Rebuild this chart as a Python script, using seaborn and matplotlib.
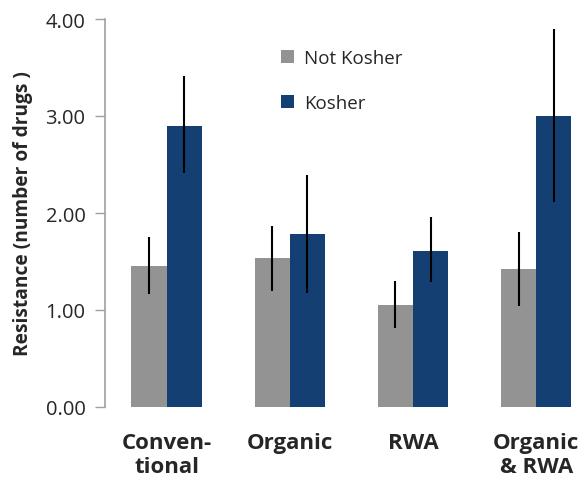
import pandas as pd
import seaborn as sns
import matplotlib.pyplot as plt

# values
groups = ['Conven-\ntional', 'Organic', 'RWA', 'Organic\n& RWA']
series = ['Not Kosher', 'Kosher']
not_kosher = [1.45, 1.54, 1.05, 1.42]
kosher = [2.90, 1.78, 1.61, 3.00]
nk_low = [1.17, 1.20, 0.81, 1.04]
nk_high = [1.75, 1.87, 1.30, 1.80]
k_low = [2.41, 1.18, 1.29, 2.11]
k_high = [3.41, 2.39, 1.96, 3.90]

colors = ['#939393', '#143f73']

df = pd.DataFrame({
    'group': groups * 2,
    'series': [series[0]] * 4 + [series[1]] * 4,
    'value': not_kosher + kosher,
})

sns.set_style('white')
plt.rcParams['font.family'] = ['Open Sans', 'DejaVu Sans']

fig = plt.figure(figsize=(5.88, 4.85), dpi=100)
ax = fig.add_axes([105 / 588, 1 - 408 / 485, 483 / 588, 388 / 485])

sns.barplot(data=df, x='group', y='value', hue='series', order=groups,
            hue_order=series, palette=colors, width=0.57, saturation=1,
            errorbar=None, linewidth=0, ax=ax)

# error bars on top of each bar
lows = nk_low + k_low
highs = nk_high + k_high
for patch, lo, hi in zip(ax.patches[:8], lows, highs):
    xc = patch.get_x() + patch.get_width() / 2
    ax.vlines(xc, lo, hi, color='black', lw=1.5, zorder=5)

ax.set_ylim(0, 4)
ax.set_xlim(-0.5, 3.42)
ax.set_yticks([0, 1, 2, 3, 4])
ax.set_yticklabels([f'{v:.2f}' for v in [0, 1, 2, 3, 4]], fontsize=14.5)
ax.tick_params(axis='y', length=7, width=1, color='#a0a0a0', direction='out', left=True, pad=7)
ax.tick_params(axis='x', length=0, pad=18)
for lbl in ax.get_xticklabels():
    lbl.set_fontsize(16)
    lbl.set_fontweight('bold')
    lbl.set_linespacing(1.2)
    lbl.set_verticalalignment('top')

ax.set_xlabel('')
ax.set_ylabel('Resistance (number of drugs )', fontsize=13.8, fontweight='bold')
ax.yaxis.set_label_coords(-0.15, 0.5)

sns.despine(ax=ax, top=True, right=True, bottom=True)
ax.spines['left'].set_color('#a0a0a0')
ax.spines['left'].set_linewidth(1.2)

leg = ax.legend(loc='upper left', bbox_to_anchor=(0.33, 0.965), frameon=False,
                fontsize=13.5, handlelength=0.7, handleheight=0.7,
                labelspacing=1.4, handletextpad=0.5)

fig.savefig('out.png', dpi=100)
